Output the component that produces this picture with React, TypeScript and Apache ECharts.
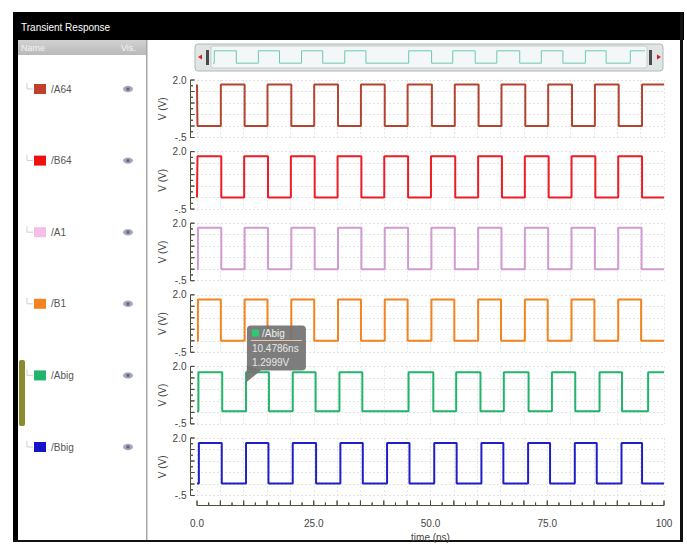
import React, { useEffect, useRef } from 'react';
import * as echarts from 'echarts';

// ---- data ----
const signalNames = ['/A64', '/B64', '/A1', '/B1', '/Abig', '/Bbig'];
const lineColors = ['#b4432f', '#ee1c24', '#d29ad2', '#f58220', '#22b46a', '#1f1fc8'];
const swatchColors = ['#c0402e', '#ee1111', '#f6bde8', '#f58220', '#22b46a', '#1414c8'];
const highLevels = [1.8, 1.8, 1.8, 1.8, 1.75, 1.78];
const lowLevels = [0, 0, 0, 0, 0.05, 0.02];
const startHigh = [true, false, false, false, false, false];

const edgesA64 = [0.1, 5.1, 10.2, 15.1, 20.2, 25.1, 30.2, 35.1, 40.2, 45.1, 50.3, 55.2, 60.3, 65.2, 70.3, 75.2, 80.3, 85.2, 90.3, 95.3];
const edgesB64 = [0.1, 5.2, 10.1, 15.2, 20.1, 25.2, 30.1, 35.2, 40.1, 45.2, 50.1, 55.3, 60.2, 65.3, 70.2, 75.3, 80.2, 85.3, 90.2, 95.3];
const edgesA1 = [0.2, 5.2, 10.2, 15.2, 20.2, 25.2, 30.2, 35.2, 40.2, 45.2, 50.2, 55.2, 60.2, 65.2, 70.2, 75.2, 80.2, 85.2, 90.2, 95.2];
const edgesB1 = [0.2, 5.1, 10.2, 15.1, 20.2, 25.1, 30.2, 35.1, 40.2, 45.1, 50.2, 55.1, 60.2, 65.1, 70.2, 75.1, 80.2, 85.1, 90.2, 95.1];
const edgesAbig = [0.3, 5.4, 10.5, 15.4, 20.5, 25.4, 30.5, 35.4, 45.3, 50.6, 55.5, 60.7, 65.7, 71.0, 76.0, 81.0, 86.2, 91.0, 96.6];
const edgesBbig = [0.4, 5.3, 10.5, 15.3, 20.5, 25.5, 30.7, 35.5, 40.7, 45.5, 50.8, 55.6, 60.9, 65.6, 70.9, 75.6, 80.9, 85.6, 90.9, 95.3];
const allEdges = [edgesA64, edgesB64, edgesA1, edgesB1, edgesAbig, edgesBbig];

const xTickValues = [0, 25, 50, 75, 100];
const xTickLabels = ['0.0', '25.0', '50.0', '75.0', '100'];
const yTickValues = [-0.5, 2];
const yTickLabels = ['-.5', '2.0'];
const yRulerTicks = [-0.5, -0.25, 0, 0.25, 0.5, 0.75, 1, 1.25, 1.5, 1.75, 2];
const xRulerTicks = [0, 2.5, 5, 7.5, 10, 12.5, 15, 17.5, 20, 22.5, 25, 27.5, 30, 32.5, 35, 37.5, 40, 42.5, 45, 47.5, 50,
  52.5, 55, 57.5, 60, 62.5, 65, 67.5, 70, 72.5, 75, 77.5, 80, 82.5, 85, 87.5, 90, 92.5, 95, 97.5, 100];

const cursorTime = 10.4786;
const cursorVolt = 1.2999;
const cursorTexts = ['/Abig', '10.4786ns', '1.2999V'];

function wave(edges: number[], hi: number, lo: number, startsHigh: boolean) {
  let lvl = startsHigh ? hi : lo;
  const pts: number[][] = [[0, lvl]];
  for (const t of edges) {
    pts.push([t, lvl]);
    lvl = lvl === hi ? lo : hi;
    pts.push([t, lvl]);
  }
  pts.push([100, lvl]);
  return pts;
}

// ruler traced as one back-and-forth path: spine plus ticks
function yRulerPath(ticks: number[]) {
  const pts: number[][] = [];
  ticks.forEach((v, k) => {
    const len = k % 2 === 0 ? 4 : 2.5;
    pts.push([0, v], [len, v], [0, v]);
  });
  return pts;
}
function xRulerPath(ticks: number[]) {
  const pts: number[][] = [];
  ticks.forEach((v, k) => {
    const len = k % 2 === 0 ? 5 : 3;
    pts.push([v, 0], [v, len], [v, 0]);
  });
  return pts;
}

const FONT = 'Liberation Sans';
const RULER = '#4d4d3d';

export default function App() {
  const ref = useRef<HTMLDivElement>(null);
  useEffect(() => {
    if (!ref.current) return;
    const chart = echarts.init(ref.current, null, { renderer: 'svg' });
    const panelTop = 80, panelStep = 71.6, panelH = 57.5;
    const n = signalNames.length;

    const grids: any[] = [];
    const xAxes: any[] = [];
    const yAxes: any[] = [];

    signalNames.forEach((_, i) => {
      grids.push({ left: 197, right: 23, top: panelTop + i * panelStep, height: panelH });
      xAxes.push({
        type: 'value', gridIndex: i, min: 0, max: 100, interval: 5,
        axisLine: { show: false }, axisTick: { show: false }, axisLabel: { show: false },
        splitLine: { show: true, lineStyle: { color: '#e6e6e6', type: [2, 2], width: 1 } },
      });
      yAxes.push({
        type: 'value', gridIndex: i, min: -0.5, max: 2, interval: 0.5,
        axisLine: { show: false }, axisTick: { show: false }, axisLabel: { show: false },
        splitLine: { show: true, lineStyle: { color: '#e2e2e2', type: [2, 2], width: 1 } },
      });
    });
    grids.push({ left: 213, right: 42, top: 49, height: 16 });
    xAxes.push({ type: 'value', gridIndex: n, min: 0, max: 100, show: false });
    yAxes.push({ type: 'value', gridIndex: n, min: -0.2, max: 2, show: false });

    const yLabelFmt = (v: number) => {
      const k = yTickValues.findIndex((t) => Math.abs(t - v) < 1e-6);
      return k >= 0 ? yTickLabels[k] : '';
    };
    signalNames.forEach((_, i) => {
      const gi = n + 1 + i;
      grids.push({ left: 190.5, width: 6, top: panelTop + i * panelStep, height: panelH });
      xAxes.push({ type: 'value', gridIndex: gi, min: 0, max: 6, show: false });
      yAxes.push({
        type: 'value', gridIndex: gi, min: -0.5, max: 2, interval: 0.5, position: 'left',
        axisLine: { show: false }, axisTick: { show: false },
        axisLabel: { margin: 4, fontSize: 10, color: '#444', fontFamily: FONT, formatter: yLabelFmt },
        splitLine: { show: false },
        name: 'V (V)', nameLocation: 'middle', nameGap: 23, nameRotate: 90,
        nameTextStyle: { fontSize: 10, color: '#444', fontFamily: FONT },
      });
    });
    const xr = n + 1 + n;
    grids.push({ left: 197, right: 23, top: 499.5, height: 6 });
    xAxes.push({
      type: 'value', gridIndex: xr, min: 0, max: 100, interval: 5, position: 'bottom',
      axisLine: { show: false }, axisTick: { show: false },
      axisLabel: {
        margin: 13, fontSize: 10, color: '#444', fontFamily: FONT,
        formatter: (v: number) => { const k = xTickValues.indexOf(v); return k >= 0 ? xTickLabels[k] : ''; },
      },
      splitLine: { show: false },
      name: 'time (ns)', nameLocation: 'middle', nameGap: 27,
      nameTextStyle: { fontSize: 10, color: '#444', fontFamily: FONT },
    });
    yAxes.push({ type: 'value', gridIndex: xr, min: 0, max: 6, show: false });

    const series: any[] = signalNames.map((name, i) => ({
      type: 'line', name, xAxisIndex: i, yAxisIndex: i, showSymbol: false, symbol: 'none',
      data: wave(allEdges[i], highLevels[i], lowLevels[i], startHigh[i]),
      lineStyle: { color: lineColors[i], width: 2 }, itemStyle: { color: lineColors[i] },
    }));
    series.push({
      type: 'line', name: 'overview', xAxisIndex: n, yAxisIndex: n, showSymbol: false, symbol: 'none',
      data: wave(edgesAbig, highLevels[4], lowLevels[4], startHigh[4]),
      lineStyle: { color: '#6cc8b2', width: 1 },
    });
    signalNames.forEach((_, i) => {
      const gi = n + 1 + i;
      series.push({
        type: 'line', name: 'yruler' + i, xAxisIndex: gi, yAxisIndex: gi, showSymbol: false, symbol: 'none',
        clip: false, silent: true, data: yRulerPath(yRulerTicks),
        lineStyle: { color: RULER, width: 1, join: 'miter' },
      });
    });
    series.push({
      type: 'line', name: 'xruler', xAxisIndex: xr, yAxisIndex: xr, showSymbol: false, symbol: 'none',
      clip: false, silent: true, data: xRulerPath(xRulerTicks),
      lineStyle: { color: RULER, width: 1, join: 'miter' },
    });

    chart.setOption({
      animation: false,
      backgroundColor: '#ffffff',
      grid: grids, xAxis: xAxes, yAxis: yAxes, series,
    });

    const g: any[] = [];
    g.push({ type: 'rect', shape: { x: 13, y: 12, width: 671, height: 28 }, style: { fill: '#000' } });
    g.push({ type: 'rect', shape: { x: 13, y: 12, width: 5, height: 530 }, style: { fill: '#000' } });
    g.push({ type: 'rect', shape: { x: 680, y: 12, width: 3, height: 530 }, style: { fill: '#111' } });
    g.push({ type: 'rect', shape: { x: 13, y: 540, width: 670, height: 2 }, style: { fill: '#111' } });
    g.push({ type: 'text', x: 21, y: 27, style: { text: 'Transient Response', fill: '#fff', fontSize: 10, fontFamily: FONT, verticalAlign: 'middle' } });
    g.push({
      type: 'rect', shape: { x: 18, y: 40, width: 129, height: 15 },
      style: { fill: new echarts.graphic.LinearGradient(0, 0, 0, 1, [{ offset: 0, color: '#d2d2d2' }, { offset: 1, color: '#b9b9b9' }]) },
    });
    g.push({ type: 'text', x: 21, y: 47.5, style: { text: 'Name', fill: '#f4f4f4', fontSize: 9, fontFamily: FONT, verticalAlign: 'middle' } });
    g.push({ type: 'text', x: 121, y: 47.5, style: { text: 'Vis.', fill: '#f4f4f4', fontSize: 9, fontFamily: FONT, verticalAlign: 'middle' } });
    g.push({ type: 'rect', shape: { x: 146, y: 40, width: 1.5, height: 500 }, style: { fill: '#a8a8a8' } });
    g.push({ type: 'rect', shape: { x: 19, y: 360, width: 6, height: 66, r: 2 }, style: { fill: '#8a8a2e' } });

    signalNames.forEach((name, i) => {
      const ry = panelTop + i * panelStep + 9;
      g.push({ type: 'polyline', shape: { points: [[27, ry - 6], [27, ry], [33, ry]] }, style: { stroke: '#cfcfcf', lineWidth: 1, fill: 'none' } });
      g.push({ type: 'rect', shape: { x: 34, y: ry - 5, width: 12, height: 10 }, style: { fill: swatchColors[i] } });
      g.push({ type: 'text', x: 51, y: ry, style: { text: name, fill: '#555', fontSize: 10, fontFamily: FONT, verticalAlign: 'middle' } });
      g.push({ type: 'ellipse', shape: { cx: 128, cy: ry, rx: 5, ry: 3.2 }, style: { fill: '#a4a9bd' } });
      g.push({ type: 'circle', shape: { cx: 128, cy: ry, r: 1.6 }, style: { fill: '#5c627a' } });
    });

    g.push({ type: 'rect', z: -1, shape: { x: 195, y: 44, width: 468, height: 27, r: 3 }, style: { fill: '#dfe4e4', stroke: '#b4b8b8' } });
    g.push({ type: 'rect', z: -1, shape: { x: 211, y: 46, width: 436, height: 22, r: 2 }, style: { fill: '#f3f7f7', stroke: '#c6cece' } });
    g.push({ type: 'rect', shape: { x: 206, y: 50, width: 3, height: 15 }, style: { fill: '#4a4a4a' } });
    g.push({ type: 'rect', shape: { x: 649, y: 50, width: 3, height: 15 }, style: { fill: '#4a4a4a' } });
    g.push({ type: 'polygon', shape: { points: [[198, 57], [202, 54.5], [202, 59.5]] }, style: { fill: '#d42020' } });
    g.push({ type: 'polygon', shape: { points: [[661, 57], [657, 54.5], [657, 59.5]] }, style: { fill: '#d42020' } });

    const p = chart.convertToPixel({ gridIndex: 4 }, [cursorTime, cursorVolt]) as number[];
    const px = p[0], py = p[1];
    const bx = px + 1, by = py - 57;
    g.push({ type: 'rect', z: 100, shape: { x: bx, y: by, width: 59, height: 45, r: 4 }, style: { fill: '#727272', opacity: 0.92 } });
    g.push({ type: 'polygon', z: 100, shape: { points: [[bx, by + 40], [px, py], [bx + 14, by + 45]] }, style: { fill: '#727272', opacity: 0.92 } });
    g.push({ type: 'rect', z: 101, shape: { x: bx + 5, y: by + 4, width: 7, height: 7 }, style: { fill: '#2ecc71' } });
    g.push({ type: 'text', z: 101, x: bx + 15, y: by + 8, style: { text: cursorTexts[0], fill: '#f0f0f0', fontSize: 10, fontFamily: FONT, verticalAlign: 'middle' } });
    g.push({ type: 'line', z: 101, shape: { x1: bx + 4, y1: by + 15, x2: bx + 55, y2: by + 15 }, style: { stroke: '#e8c8a8', lineWidth: 1 } });
    g.push({ type: 'text', z: 101, x: bx + 5, y: by + 23, style: { text: cursorTexts[1], fill: '#e8e8e8', fontSize: 10, fontFamily: FONT, verticalAlign: 'middle' } });
    g.push({ type: 'text', z: 101, x: bx + 5, y: by + 37, style: { text: cursorTexts[2], fill: '#e8e8e8', fontSize: 10, fontFamily: FONT, verticalAlign: 'middle' } });

    chart.setOption({ graphic: g });
    return () => chart.dispose();
  }, []);
  return <div ref={ref} style={{ position: 'fixed', left: 0, top: 0, width: 687, height: 545 }} />;
}
